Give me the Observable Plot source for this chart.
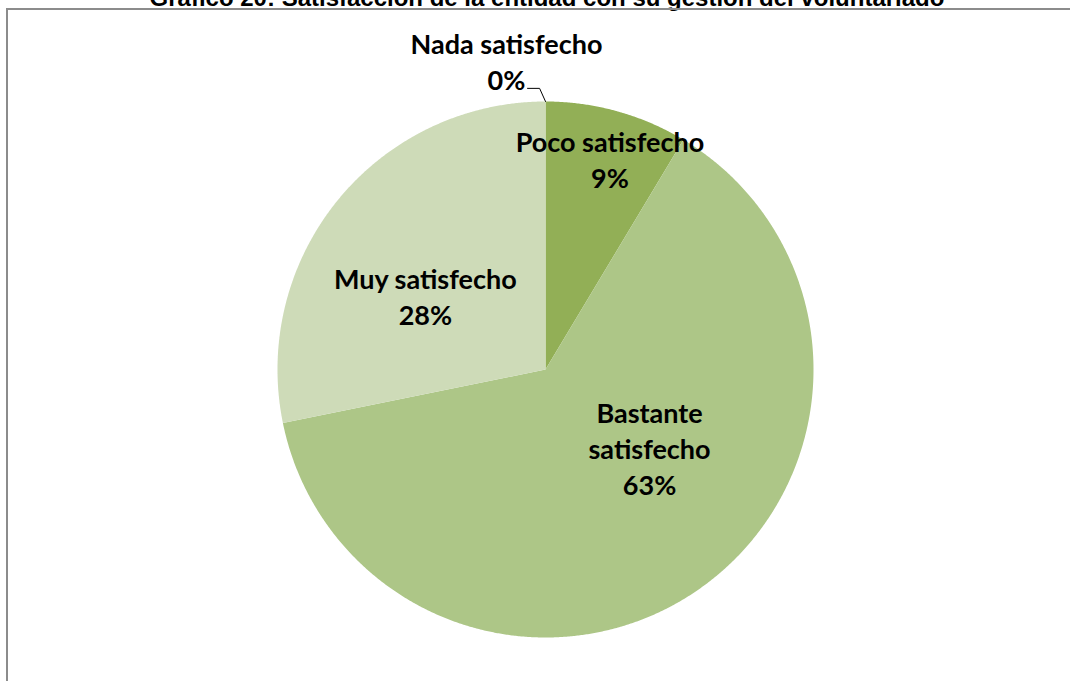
<!DOCTYPE html>
<html>
<head>
<meta charset="utf-8">
<script src="https://cdn.jsdelivr.net/npm/d3@7"></script>
<script src="https://cdn.jsdelivr.net/npm/@observablehq/plot@0.6"></script>
<style>
  html, body { margin: 0; padding: 0; background: #fff; }
  #wrap { position: relative; width: 1070px; height: 681px; overflow: hidden; background: #fff; }
  #title { position: absolute; left: 0; width: 1094px; top: -14px; text-align: center;
           font-family: "Liberation Sans", Arial, sans-serif; font-weight: bold; font-size: 24px;
           line-height: 24px; color: #000; white-space: nowrap; }
  #frame { position: absolute; left: 6px; top: 8px; width: 1100px; height: 700px;
           border: 2px solid #8c8c8c; box-sizing: border-box; }
  #chart { position: absolute; left: 0; top: 0; }
</style>
</head>
<body>
<div id="wrap">
  <div id="title">Gráfico 20: Satisfacción de la entidad con su gestión del voluntariado</div>
  <div id="frame"></div>
  <div id="chart"></div>
</div>
<script>
// ---- data ----
const categories = ["Nada satisfecho", "Poco satisfecho", "Bastante satisfecho", "Muy satisfecho"];
const values = [0, 8.6, 63.2, 28.2];
const labelTexts = ["Nada satisfecho", "Poco satisfecho", "Bastante\nsatisfecho", "Muy satisfecho"];
const colors = ["#7f9a48", "#92AF56", "#ADC687", "#CEDBB8"];

// ---- label layout (radius factor, angle nudge in degrees) ----
const labelRadius = [1.162, 0.823, 0.485, 0.526];
const labelNudge = [-7.2, 1.5, -17.9, -7.7];

const total = d3.sum(values);
const pie = d3.pie().sort(null).value(d => d.value)(
  categories.map((c, i) => ({cat: c, value: values[i], label: labelTexts[i]}))
);

// polar (angle clockwise from top, radians) -> data coordinates
const polar = (a, r) => [r * Math.sin(a), r * Math.cos(a)];

// slice polygons in data space
const slicePts = [];
pie.forEach(s => {
  if (s.endAngle - s.startAngle <= 0) return;
  const n = Math.max(2, Math.ceil((s.endAngle - s.startAngle) / 0.005));
  slicePts.push({cat: s.data.cat, x: 0, y: 0});
  for (let k = 0; k <= n; k++) {
    const a = s.startAngle + (s.endAngle - s.startAngle) * k / n;
    const [x, y] = polar(a, 1);
    slicePts.push({cat: s.data.cat, x, y});
  }
});

// labels
const labels = pie.map((s, i) => {
  const mid = (s.startAngle + s.endAngle) / 2 + labelNudge[i] * Math.PI / 180;
  const [x, y] = polar(mid, labelRadius[i]);
  return {x, y, text: s.data.label + "\n" + Math.round(s.data.value / total * 100) + "%"};
});

// leader line for the zero slice
const zero = pie[0];
const [ex, ey] = polar(zero.startAngle, 1);
const leader = [
  {x: ex, y: ey},
  {x: ex - 0.022, y: 1.049},
  {x: ex - 0.067, y: 1.049}
];

const R = 268, cx = 545, cy = 369;
const plot = Plot.plot({
  width: 1070,
  height: 681,
  margin: 0,
  style: {background: "transparent", overflow: "visible"},
  x: {domain: [-1, 1], range: [cx - R, cx + R], axis: null},
  y: {domain: [-1, 1], range: [cy + R, cy - R], axis: null},
  color: {domain: categories, range: colors},
  marks: [
    Plot.line(slicePts, {x: "x", y: "y", z: "cat", fill: "cat", stroke: "none", curve: "linear"}),
    Plot.line(leader, {x: "x", y: "y", stroke: "#000", strokeWidth: 1}),
    Plot.text(labels, {
      x: "x", y: "y", text: "text",
      fontFamily: "Lato, 'Open Sans', sans-serif", fontWeight: "bold", fontSize: 27,
      lineHeight: 1.33, fill: "#000", textAnchor: "middle"
    })
  ]
});
document.getElementById("chart").appendChild(plot);
</script>
</body>
</html>
